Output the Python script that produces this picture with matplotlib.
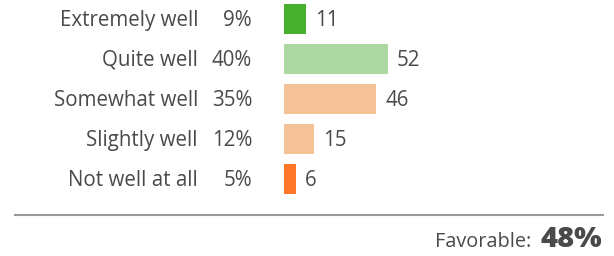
import matplotlib
matplotlib.use("Agg")
import matplotlib.pyplot as plt

plt.rcParams["font.family"] = ["Open Sans", "DejaVu Sans"]

categories = ["Extremely well", "Quite well", "Somewhat well", "Slightly well", "Not well at all"]
percents = ["9%", "40%", "35%", "12%", "5%"]
counts = [11, 52, 46, 15, 6]
colors = ["#48b02f", "#add8a1", "#f5c298", "#f5c298", "#fe7627"]
favorable = "48%"

text_color = "#4a4a4a"
fs = 14.8

fig = plt.figure(figsize=(6.14, 2.56), dpi=100)
ax = fig.add_axes([0, 0, 1, 1])
ax.set_xlim(-142, 165)
ax.set_ylim(5.925, -0.475)
ax.axis("off")

ypos = list(range(len(categories)))
ax.barh(ypos, counts, height=0.75, color=colors, left=0)

# text baseline sits a bit below the bar centre so caps look centred
for y, cat, pct, n in zip(ypos, categories, percents, counts):
    ax.text(-43, y + 0.17, cat, ha="right", va="baseline", fontsize=fs, color=text_color)
    ax.text(-16, y + 0.17, pct, ha="right", va="baseline", fontsize=fs, color=text_color)
    ax.text(n + 4.5, y + 0.17, str(n), ha="left", va="baseline", fontsize=fs, color=text_color)

ax.plot([-135, 160], [4.9, 4.9], color="#999999", linewidth=1.5, solid_capstyle="butt")

fig.text(531 / 614, 9 / 256, "Favorable:", ha="right", va="baseline",
         fontsize=14.3, color=text_color)
fig.text(602 / 614, 9 / 256, favorable, ha="right", va="baseline",
         fontsize=21, fontweight=800, color=text_color)

fig.savefig("out.png", dpi=100)
